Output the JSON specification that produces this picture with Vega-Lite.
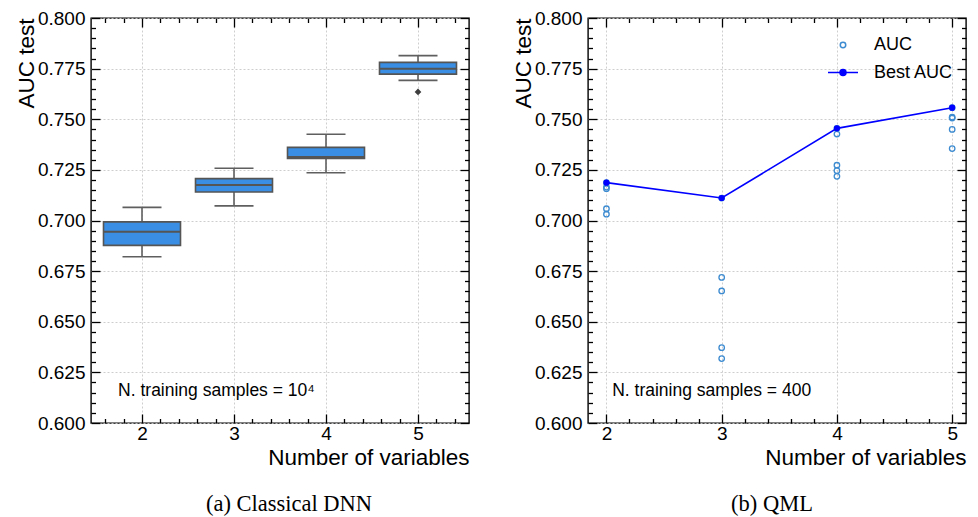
{
  "$schema": "https://vega.github.io/schema/vega-lite/v6.json",
  "background": "white",
  "padding": {"left": 14, "top": 8, "right": 2, "bottom": 0},
  "spacing": 40,
  "resolve": {"legend": {"color": "independent"}},
  "datasets": {
    "boxes": [
      {"n": 2, "lower": 0.6821, "q1": 0.6877, "median": 0.6945, "q3": 0.6993, "upper": 0.7065},
      {"n": 3, "lower": 0.7072, "q1": 0.7141, "median": 0.7175, "q3": 0.7207, "upper": 0.7258},
      {"n": 4, "lower": 0.7236, "q1": 0.7307, "median": 0.7314, "q3": 0.7361, "upper": 0.7426},
      {"n": 5, "lower": 0.7692, "q1": 0.7723, "median": 0.7750, "q3": 0.7781, "upper": 0.7814}
    ],
    "outliers": [
      {"n": 5, "v": 0.7635}
    ],
    "single": [
      {}
    ],
    "qml": [
      {"n": 2, "value": 0.7187, "series": "AUC"},
      {"n": 2, "value": 0.7165, "series": "AUC"},
      {"n": 2, "value": 0.7157, "series": "AUC"},
      {"n": 2, "value": 0.7058, "series": "AUC"},
      {"n": 2, "value": 0.7031, "series": "AUC"},
      {"n": 3, "value": 0.7111, "series": "AUC"},
      {"n": 3, "value": 0.6719, "series": "AUC"},
      {"n": 3, "value": 0.6652, "series": "AUC"},
      {"n": 3, "value": 0.6372, "series": "AUC"},
      {"n": 3, "value": 0.6318, "series": "AUC"},
      {"n": 4, "value": 0.7455, "series": "AUC"},
      {"n": 4, "value": 0.7427, "series": "AUC"},
      {"n": 4, "value": 0.7273, "series": "AUC"},
      {"n": 4, "value": 0.7246, "series": "AUC"},
      {"n": 4, "value": 0.7218, "series": "AUC"},
      {"n": 5, "value": 0.7557, "series": "AUC"},
      {"n": 5, "value": 0.7510, "series": "AUC"},
      {"n": 5, "value": 0.7506, "series": "AUC"},
      {"n": 5, "value": 0.7450, "series": "AUC"},
      {"n": 5, "value": 0.7355, "series": "AUC"},
      {"n": 2, "value": 0.7187, "series": "Best AUC"},
      {"n": 3, "value": 0.7111, "series": "Best AUC"},
      {"n": 4, "value": 0.7455, "series": "Best AUC"},
      {"n": 5, "value": 0.7557, "series": "Best AUC"}
    ]
  },
  "hconcat": [
    {
      "width": 378,
      "height": 405,
      "title": {"text": "(a) Classical DNN", "orient": "bottom", "frame": "group", "font": "Liberation Serif", "fontSize": 22.5, "fontWeight": "normal", "color": "black", "offset": 24, "dx": 9},
      "data": {"name": "boxes"},
      "resolve": {"axis": {"x": "independent", "y": "independent"}},
      "layer": [
        {
          "mark": {"type": "rule", "color": "#5f5f5f", "strokeWidth": 1.6},
          "encoding": {
            "x": {"field": "n", "type": "quantitative", "scale": {"domain": [1.5, 5.5], "nice": false, "zero": false},
              "axis": {"orient": "bottom", "values": [2, 3, 4, 5], "format": "d", "ticks": false, "grid": true, "labelPadding": 1,
                "title": "Number of variables", "titleAnchor": "end", "titlePadding": 3}},
            "y": {"field": "lower", "type": "quantitative", "scale": {"domain": [0.6, 0.8], "nice": false, "zero": false},
              "axis": {"orient": "left", "values": [0.6, 0.625, 0.65, 0.675, 0.7, 0.725, 0.75, 0.775, 0.8], "format": ".3f", "ticks": false, "grid": true, "labelPadding": 6,
                "title": "AUC test", "titleAnchor": "end", "titlePadding": -1}},
            "y2": {"field": "upper"}
          }
        },
        {
          "mark": {"type": "bar", "width": 77, "fill": "#3a8ee3", "stroke": "#555555", "strokeWidth": 1.6},
          "encoding": {
            "x": {"field": "n", "type": "quantitative",
              "axis": {"orient": "bottom", "values": [2, 3, 4, 5], "labels": false, "ticks": true, "tickSize": -9, "title": null}},
            "y": {"field": "q1", "type": "quantitative",
              "axis": {"orient": "left", "values": [0.6, 0.625, 0.65, 0.675, 0.7, 0.725, 0.75, 0.775, 0.8], "labels": false, "ticks": true, "tickSize": -9, "title": null}},
            "y2": {"field": "q3"}
          }
        },
        {
          "mark": {"type": "tick", "orient": "horizontal", "size": 77, "thickness": 2, "color": "#555555", "opacity": 1},
          "encoding": {
            "x": {"field": "n", "type": "quantitative",
              "axis": {"orient": "bottom", "values": [1.6, 1.8, 2.2, 2.4, 2.6, 2.8, 3.2, 3.4, 3.6, 3.8, 4.2, 4.4, 4.6, 4.8, 5.2, 5.4], "labels": false, "ticks": true, "tickSize": -4.5, "title": null}},
            "y": {"field": "median", "type": "quantitative",
              "axis": {"orient": "left", "values": [0.605, 0.61, 0.615, 0.62, 0.63, 0.635, 0.64, 0.645, 0.655, 0.66, 0.665, 0.67, 0.68, 0.685, 0.69, 0.695, 0.705, 0.71, 0.715, 0.72, 0.73, 0.735, 0.74, 0.745, 0.755, 0.76, 0.765, 0.77, 0.78, 0.785, 0.79, 0.795], "labels": false, "ticks": true, "tickSize": -4.5, "title": null}}
          }
        },
        {
          "mark": {"type": "tick", "orient": "horizontal", "size": 39, "thickness": 1.6, "color": "#5f5f5f", "opacity": 1},
          "encoding": {
            "x": {"field": "n", "type": "quantitative",
              "axis": {"orient": "top", "values": [2, 3, 4, 5], "labels": false, "ticks": true, "tickSize": -9, "title": null}},
            "y": {"field": "lower", "type": "quantitative",
              "axis": {"orient": "right", "values": [0.6, 0.625, 0.65, 0.675, 0.7, 0.725, 0.75, 0.775, 0.8], "labels": false, "ticks": true, "tickSize": -9, "title": null}}
          }
        },
        {
          "mark": {"type": "tick", "orient": "horizontal", "size": 39, "thickness": 1.6, "color": "#5f5f5f", "opacity": 1},
          "encoding": {
            "x": {"field": "n", "type": "quantitative",
              "axis": {"orient": "top", "values": [1.6, 1.8, 2.2, 2.4, 2.6, 2.8, 3.2, 3.4, 3.6, 3.8, 4.2, 4.4, 4.6, 4.8, 5.2, 5.4], "labels": false, "ticks": true, "tickSize": -4.5, "title": null}},
            "y": {"field": "upper", "type": "quantitative",
              "axis": {"orient": "right", "values": [0.605, 0.61, 0.615, 0.62, 0.63, 0.635, 0.64, 0.645, 0.655, 0.66, 0.665, 0.67, 0.68, 0.685, 0.69, 0.695, 0.705, 0.71, 0.715, 0.72, 0.73, 0.735, 0.74, 0.745, 0.755, 0.76, 0.765, 0.77, 0.78, 0.785, 0.79, 0.795], "labels": false, "ticks": true, "tickSize": -4.5, "title": null}}
          }
        },
        {
          "data": {"name": "outliers"},
          "mark": {"type": "point", "shape": "diamond", "filled": true, "size": 45, "color": "#3d3d3d", "opacity": 1},
          "encoding": {
            "x": {"field": "n", "type": "quantitative", "axis": null},
            "y": {"field": "v", "type": "quantitative", "axis": null}
          }
        },
        {
          "data": {"name": "single"},
          "mark": {"type": "text", "text": "N. training samples = 10⁴", "align": "left", "baseline": "middle", "font": "Liberation Sans", "fontSize": 17.5, "color": "black"},
          "encoding": {
            "x": {"datum": 1.74, "type": "quantitative", "axis": null},
            "y": {"datum": 0.6158, "type": "quantitative", "axis": null}
          }
        }
      ]
    },
    {
      "width": 378,
      "height": 405,
      "title": {"text": "(b) QML", "orient": "bottom", "frame": "group", "font": "Liberation Serif", "fontSize": 22.5, "fontWeight": "normal", "color": "black", "offset": 24, "dx": -5},
      "data": {"name": "qml"},
      "resolve": {"axis": {"x": "independent", "y": "independent"}},
      "layer": [
        {
          "transform": [{"filter": "datum.series === 'AUC'"}],
          "mark": {"type": "point", "filled": false, "size": 30, "strokeWidth": 1.3, "opacity": 1},
          "encoding": {
            "x": {"field": "n", "type": "quantitative", "scale": {"domain": [1.84, 5.12], "nice": false, "zero": false},
              "axis": {"orient": "bottom", "values": [2, 3, 4, 5], "format": "d", "ticks": false, "grid": true, "labelPadding": 1,
                "title": "Number of variables", "titleAnchor": "end", "titlePadding": 3}},
            "y": {"field": "value", "type": "quantitative", "scale": {"domain": [0.6, 0.8], "nice": false, "zero": false},
              "axis": {"orient": "left", "values": [0.6, 0.625, 0.65, 0.675, 0.7, 0.725, 0.75, 0.775, 0.8], "format": ".3f", "ticks": false, "grid": true, "labelPadding": 6,
                "title": "AUC test", "titleAnchor": "end", "titlePadding": -1}},
            "color": {"field": "series", "type": "nominal",
              "scale": {"domain": ["AUC", "Best AUC"], "range": ["#3d8bd0", "#0000ff"]},
              "legend": {"title": null, "orient": "none", "legendX": 239, "legendY": 11, "symbolSize": 900, "labelOffset": 15, "labelFont": "Liberation Sans", "labelFontSize": 18, "labelColor": "black", "rowPadding": 2.5,
                "encode": {"symbols": {"update": {
                  "shape": {"signal": "datum.value === 'AUC' ? 'circle' : 'M-1,0L-0.2,0M0.2,0A0.2,0.2 0 1 1 -0.2,0A0.2,0.2 0 1 1 0.2,0M0.2,0L1,0'"},
                  "size": {"signal": "datum.value === 'AUC' ? 30 : 900"},
                  "fill": {"signal": "datum.value === 'AUC' ? 'white' : '#0000ff'"},
                  "fillOpacity": {"signal": "datum.value === 'AUC' ? 0 : 1"},
                  "stroke": {"signal": "datum.value === 'AUC' ? '#3d8bd0' : '#0000ff'"},
                  "strokeWidth": {"value": 1.5},
                  "opacity": {"value": 1}
                }}}}}
          }
        },
        {
          "transform": [{"filter": "datum.series === 'Best AUC'"}],
          "mark": {"type": "line", "strokeWidth": 1.6},
          "encoding": {
            "x": {"field": "n", "type": "quantitative",
              "axis": {"orient": "bottom", "values": [2, 3, 4, 5], "labels": false, "ticks": true, "tickSize": -9, "title": null}},
            "y": {"field": "value", "type": "quantitative",
              "axis": {"orient": "left", "values": [0.6, 0.625, 0.65, 0.675, 0.7, 0.725, 0.75, 0.775, 0.8], "labels": false, "ticks": true, "tickSize": -9, "title": null}},
            "color": {"field": "series", "type": "nominal",
              "legend": {"title": null, "orient": "none", "legendX": 239, "legendY": 11, "symbolSize": 900, "labelOffset": 15, "labelFont": "Liberation Sans", "labelFontSize": 18, "labelColor": "black", "rowPadding": 2.5,
                "encode": {"symbols": {"update": {
                  "shape": {"signal": "datum.value === 'AUC' ? 'circle' : 'M-1,0L-0.2,0M0.2,0A0.2,0.2 0 1 1 -0.2,0A0.2,0.2 0 1 1 0.2,0M0.2,0L1,0'"},
                  "size": {"signal": "datum.value === 'AUC' ? 30 : 900"},
                  "fill": {"signal": "datum.value === 'AUC' ? 'white' : '#0000ff'"},
                  "fillOpacity": {"signal": "datum.value === 'AUC' ? 0 : 1"},
                  "stroke": {"signal": "datum.value === 'AUC' ? '#3d8bd0' : '#0000ff'"},
                  "strokeWidth": {"value": 1.5},
                  "opacity": {"value": 1}
                }}}}}
          }
        },
        {
          "transform": [{"filter": "datum.series === 'Best AUC'"}],
          "mark": {"type": "point", "filled": true, "size": 38, "opacity": 1},
          "encoding": {
            "x": {"field": "n", "type": "quantitative",
              "axis": {"orient": "bottom", "values": [2.2, 2.4, 2.6, 2.8, 3.2, 3.4, 3.6, 3.8, 4.2, 4.4, 4.6, 4.8], "labels": false, "ticks": true, "tickSize": -4.5, "title": null}},
            "y": {"field": "value", "type": "quantitative",
              "axis": {"orient": "left", "values": [0.605, 0.61, 0.615, 0.62, 0.63, 0.635, 0.64, 0.645, 0.655, 0.66, 0.665, 0.67, 0.68, 0.685, 0.69, 0.695, 0.705, 0.71, 0.715, 0.72, 0.73, 0.735, 0.74, 0.745, 0.755, 0.76, 0.765, 0.77, 0.78, 0.785, 0.79, 0.795], "labels": false, "ticks": true, "tickSize": -4.5, "title": null}},
            "color": {"field": "series", "type": "nominal",
              "legend": {"title": null, "orient": "none", "legendX": 239, "legendY": 11, "symbolSize": 900, "labelOffset": 15, "labelFont": "Liberation Sans", "labelFontSize": 18, "labelColor": "black", "rowPadding": 2.5,
                "encode": {"symbols": {"update": {
                  "shape": {"signal": "datum.value === 'AUC' ? 'circle' : 'M-1,0L-0.2,0M0.2,0A0.2,0.2 0 1 1 -0.2,0A0.2,0.2 0 1 1 0.2,0M0.2,0L1,0'"},
                  "size": {"signal": "datum.value === 'AUC' ? 30 : 900"},
                  "fill": {"signal": "datum.value === 'AUC' ? 'white' : '#0000ff'"},
                  "fillOpacity": {"signal": "datum.value === 'AUC' ? 0 : 1"},
                  "stroke": {"signal": "datum.value === 'AUC' ? '#3d8bd0' : '#0000ff'"},
                  "strokeWidth": {"value": 1.5},
                  "opacity": {"value": 1}
                }}}}}
          }
        },
        {
          "transform": [{"filter": "datum.series === 'Best AUC'"}],
          "mark": {"type": "point", "opacity": 0},
          "encoding": {
            "x": {"field": "n", "type": "quantitative",
              "axis": {"orient": "top", "values": [2, 3, 4, 5], "labels": false, "ticks": true, "tickSize": -9, "title": null}},
            "y": {"field": "value", "type": "quantitative",
              "axis": {"orient": "right", "values": [0.6, 0.625, 0.65, 0.675, 0.7, 0.725, 0.75, 0.775, 0.8], "labels": false, "ticks": true, "tickSize": -9, "title": null}}
          }
        },
        {
          "transform": [{"filter": "datum.series === 'Best AUC'"}],
          "mark": {"type": "point", "opacity": 0},
          "encoding": {
            "x": {"field": "n", "type": "quantitative",
              "axis": {"orient": "top", "values": [2.2, 2.4, 2.6, 2.8, 3.2, 3.4, 3.6, 3.8, 4.2, 4.4, 4.6, 4.8], "labels": false, "ticks": true, "tickSize": -4.5, "title": null}},
            "y": {"field": "value", "type": "quantitative",
              "axis": {"orient": "right", "values": [0.605, 0.61, 0.615, 0.62, 0.63, 0.635, 0.64, 0.645, 0.655, 0.66, 0.665, 0.67, 0.68, 0.685, 0.69, 0.695, 0.705, 0.71, 0.715, 0.72, 0.73, 0.735, 0.74, 0.745, 0.755, 0.76, 0.765, 0.77, 0.78, 0.785, 0.79, 0.795], "labels": false, "ticks": true, "tickSize": -4.5, "title": null}}
          }
        },
        {
          "data": {"name": "single"},
          "mark": {"type": "text", "text": "N. training samples = 400", "align": "left", "baseline": "middle", "font": "Liberation Sans", "fontSize": 17.5, "color": "black"},
          "encoding": {
            "x": {"datum": 2.05, "type": "quantitative", "axis": null},
            "y": {"datum": 0.6158, "type": "quantitative", "axis": null}
          }
        }
      ]
    }
  ],
  "config": {
    "view": {"stroke": "black", "strokeWidth": 1.4},
    "axis": {
      "domain": false,
      "grid": false,
      "gridColor": "#c8c8c8",
      "gridDash": [2, 2],
      "gridWidth": 0.9,
      "tickColor": "black",
      "tickWidth": 1.3,
      "labelFont": "Liberation Sans",
      "labelFontSize": 19,
      "labelColor": "black",
      "titleFont": "Liberation Sans",
      "titleFontSize": 22.5,
      "titleFontWeight": "normal",
      "titleColor": "black"
    }
  }
}
